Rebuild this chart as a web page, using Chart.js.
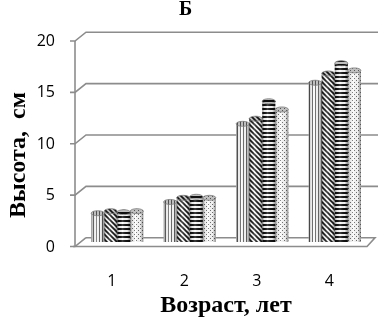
<!DOCTYPE html>
<html>
<head>
<meta charset="utf-8">
<script src="https://cdn.jsdelivr.net/npm/chart.js@4"></script>
<style>
  html, body { margin: 0; padding: 0; background: #fff; }
  #wrap { width: 384px; height: 318px; }
</style>
</head>
<body>
<div id="wrap"><canvas id="chart" width="384" height="318"></canvas></div>
<script>
const categories = ["1", "2", "3", "4"];
const series1 = [2.8, 3.9, 11.5, 15.5];
const series2 = [3.0, 4.3, 12.0, 16.4];
const series3 = [2.9, 4.4, 13.7, 17.4];
const series4 = [3.0, 4.3, 12.9, 16.7];
const yTicks = [0, 5, 10, 15, 20];

const chartTitle = "Б";
const yTitle = "Высота,  см";
const xTitle = "Возраст, лет";

const serif = "'Liberation Serif', 'Times New Roman', serif";
const sans = "'Open Sans', 'DejaVu Sans', sans-serif";
const gridColor = "#8c8c8c";

// small tiles used as bar fills
function makePattern(w, h, draw) {
    const c = document.createElement("canvas");
    c.width = w;
    c.height = h;
    const g = c.getContext("2d");
    g.fillStyle = "#fff";
    g.fillRect(0, 0, w, h);
    draw(g, w, h);
    return g.createPattern(c, "repeat");
}

const patterns = [
    makePattern(3, 1, (g) => {
        g.fillStyle = "#6a6a6a";
        g.fillRect(0, 0, 1, 1);
    }),
    makePattern(5, 5, (g) => {
        g.strokeStyle = "#1a1a1a";
        g.lineWidth = 1.7;
        g.beginPath();
        g.moveTo(-1, -1); g.lineTo(6, 6);
        g.moveTo(-1, 4); g.lineTo(1, 6);
        g.moveTo(4, -1); g.lineTo(6, 1);
        g.stroke();
    }),
    makePattern(1, 4, (g) => {
        g.fillStyle = "#141414";
        g.fillRect(0, 0, 1, 2);
    }),
    makePattern(4, 4, (g) => {
        g.fillStyle = "#6f6f6f";
        g.fillRect(0, 0, 1, 1);
        g.fillRect(2, 2, 1, 1);
    }),
];

// depth offsets of the fake 3D box, relative to the scale pixels
const FRONT_DY = 4.5;
const BACK_DY = -4.3;

const box3d = {
    id: "box3d",
    beforeDatasetsDraw(chart) {
        const { ctx, chartArea } = chart;
        const y = chart.scales.y;
        const xFront = chartArea.left - 6;
        const xBack = chartArea.left + 5;
        const xRight = chartArea.right + 7;
        ctx.save();
        ctx.strokeStyle = gridColor;
        ctx.lineWidth = 1.6;
        // back wall gridlines + tick connectors
        for (const v of yTicks) {
            const py = y.getPixelForValue(v);
            ctx.beginPath();
            ctx.moveTo(xFront - 5, py + FRONT_DY);
            ctx.lineTo(xFront, py + FRONT_DY);
            ctx.lineTo(xBack, py + BACK_DY);
            if (v !== 0) {
                ctx.lineTo(xRight, py + BACK_DY);
            }
            ctx.stroke();
        }
        // floor
        const p0 = y.getPixelForValue(0);
        ctx.beginPath();
        ctx.moveTo(xBack, p0 + BACK_DY);
        ctx.lineTo(xRight - 3, p0 + BACK_DY);
        ctx.lineTo(xRight - 11, p0 + FRONT_DY);
        ctx.lineTo(xFront - 2, p0 + FRONT_DY);
        ctx.stroke();
        // front vertical axis
        ctx.beginPath();
        ctx.moveTo(xFront, y.getPixelForValue(20) + FRONT_DY);
        ctx.lineTo(xFront, p0 + FRONT_DY);
        ctx.stroke();
        ctx.restore();
    },
    afterDatasetsDraw(chart) {
        const { ctx } = chart;
        ctx.save();
        chart.data.datasets.forEach((ds, di) => {
            const meta = chart.getDatasetMeta(di);
            meta.data.forEach((bar) => {
                const { x, y, base, width } = bar.getProps(["x", "y", "base", "width"], true);
                const left = x - width / 2;
                // cylinder shading
                const grad = ctx.createLinearGradient(left, 0, left + width, 0);
                grad.addColorStop(0, "rgba(0,0,0,0.45)");
                grad.addColorStop(0.18, "rgba(0,0,0,0.08)");
                grad.addColorStop(0.4, "rgba(255,255,255,0.2)");
                grad.addColorStop(0.75, "rgba(0,0,0,0.05)");
                grad.addColorStop(1, "rgba(0,0,0,0.45)");
                ctx.fillStyle = grad;
                ctx.fillRect(left, y, width, base - y);
                // top cap
                ctx.beginPath();
                ctx.ellipse(x, y, width / 2, 2.5, 0, 0, Math.PI * 2);
                ctx.fillStyle = ds.backgroundColor;
                ctx.fill();
                ctx.fillStyle = "rgba(0,0,0,0.25)";
                ctx.fill();
                ctx.strokeStyle = "#7a7a7a";
                ctx.lineWidth = 0.8;
                ctx.stroke();
            });
        });
        ctx.restore();
    },
    afterDraw(chart) {
        const { ctx } = chart;
        ctx.save();
        ctx.translate(19, 155);
        ctx.rotate(-Math.PI / 2);
        ctx.font = "bold 24px " + serif;
        ctx.fillStyle = "#000";
        ctx.textAlign = "center";
        ctx.textBaseline = "middle";
        ctx.fillText(yTitle, 0, 0);
        ctx.restore();
    },
};

new Chart(document.getElementById("chart"), {
    type: "bar",
    data: {
        labels: categories,
        datasets: [series1, series2, series3, series4].map((data, i) => ({
            data,
            backgroundColor: patterns[i],
            borderWidth: 0,
            barPercentage: 1,
            categoryPercentage: 0.72,
        })),
    },
    options: {
        responsive: false,
        animation: false,
        layout: { padding: { top: 0, right: 13, bottom: 0, left: 0 } },
        plugins: {
            legend: { display: false },
            tooltip: { enabled: false },
            title: {
                display: true,
                text: chartTitle,
                color: "#000",
                font: { family: serif, size: 20, weight: "bold", lineHeight: 1 },
                padding: { top: 0, bottom: 16.5 },
            },
        },
        scales: {
            x: {
                grid: { display: false, drawTicks: false },
                border: { display: false },
                ticks: {
                    color: "#000",
                    font: { family: sans, size: 16 },
                    padding: 30,
                    labelOffset: -5.5,
                },
                title: {
                    display: true,
                    text: xTitle,
                    color: "#000",
                    font: { family: serif, size: 24, weight: "bold", lineHeight: 1 },
                    padding: { top: 0, bottom: 0 },
                },
                afterFit: (scale) => { scale.height = 76; },
            },
            y: {
                min: 0,
                max: 20,
                grid: { display: false, drawTicks: false },
                border: { display: false },
                ticks: {
                    stepSize: 5,
                    color: "#000",
                    font: { family: sans, size: 16 },
                    padding: 26,
                    labelOffset: 5,
                },
                afterFit: (scale) => { scale.width = 81; },
            },
        },
    },
    plugins: [box3d],
});
</script>
</body>
</html>
